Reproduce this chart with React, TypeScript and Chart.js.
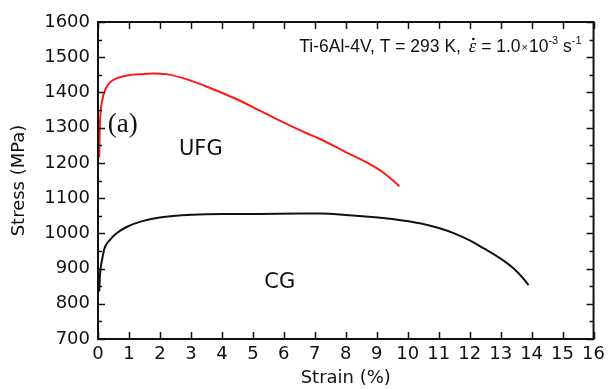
import React, { useEffect, useRef } from "react";
import { Chart, registerables } from "chart.js";

Chart.register(...registerables);

// UFG (red) curve
const ufgStrain = [0.04, 0.05, 0.07, 0.13, 0.26, 0.38, 0.6, 1.0, 1.4, 1.75, 2.2, 2.95, 3.64, 4.5, 5.19, 5.94, 6.79, 7.12, 7.97, 8.72, 9.25, 9.73];
const ufgStress = [1215, 1270, 1325, 1375, 1412, 1428, 1440, 1449, 1452, 1454, 1452, 1435, 1412, 1380, 1350, 1317, 1282, 1270, 1232, 1199, 1170, 1134];

// CG (black) curve
const cgStrain = [0.04, 0.06, 0.09, 0.13, 0.2, 0.38, 0.6, 0.92, 1.4, 1.99, 3.05, 4.0, 5.2, 6.5, 7.2, 8.0, 9.04, 9.5, 10.43, 11.0, 11.5, 12.0, 12.46, 13.0, 13.42, 13.7, 13.9];
const cgStress = [835, 876, 905, 924, 955, 981, 1000, 1018, 1034, 1045, 1053, 1055, 1055, 1056, 1056, 1052, 1045, 1041, 1028, 1015, 1000, 980, 957, 928, 900, 875, 853];

const X_MIN = 0;
const X_MAX = 16;
const Y_MIN = 700;
const Y_MAX = 1600;
const xTickValues = [0, 1, 2, 3, 4, 5, 6, 7, 8, 9, 10, 11, 12, 13, 14, 15, 16];
const yMajorTicks = [700, 800, 900, 1000, 1100, 1200, 1300, 1400, 1500, 1600];
const yMinorTicks = [750, 850, 950, 1050, 1150, 1250, 1350, 1450, 1550];

const xTitle = "Strain (%)";
const yTitle = "Stress (MPa)";

const labelA = { text: "(a)", x: 0.8, y: 1307 };
const labelUFG = { text: "UFG", x: 3.32, y: 1239 };
const labelCG = { text: "CG", x: 5.87, y: 859 };
const headerPos = { x: 6.5, y: 1532 };
const headerMain = "Ti-6Al-4V, T = 293 K, ";
const headerRate = " = 1.0";
const headerExp = "-3";
const headerUnitExp = "-1";

const SANS = "'DejaVu Sans', 'Liberation Sans', Arial, sans-serif";
const ARIAL = "'Liberation Sans', Arial, sans-serif";
const SERIF = "'Liberation Serif', 'Times New Roman', serif";

const framePlugin = {
  id: "frame",
  afterDatasetsDraw(chart: any) {
    const { ctx, chartArea, scales } = chart;
    const { left, right, top, bottom } = chartArea;
    const x = scales.x;
    const y = scales.y;
    ctx.save();
    ctx.strokeStyle = "#111";
    ctx.lineWidth = 2;
    ctx.strokeRect(left, top, right - left, bottom - top);
    ctx.lineWidth = 1.5;
    ctx.beginPath();
    xTickValues.forEach((v) => {
      const px = Math.round(x.getPixelForValue(v)) + 0.5;
      ctx.moveTo(px, bottom);
      ctx.lineTo(px, bottom - 7);
      ctx.moveTo(px, top);
      ctx.lineTo(px, top + 7);
    });
    yMajorTicks.forEach((v) => {
      const py = Math.round(y.getPixelForValue(v)) + 0.5;
      ctx.moveTo(left, py);
      ctx.lineTo(left + 7, py);
      ctx.moveTo(right, py);
      ctx.lineTo(right - 7, py);
    });
    yMinorTicks.forEach((v) => {
      const py = Math.round(y.getPixelForValue(v)) + 0.5;
      ctx.moveTo(left, py);
      ctx.lineTo(left + 4, py);
      ctx.moveTo(right, py);
      ctx.lineTo(right - 4, py);
    });
    ctx.stroke();

    ctx.fillStyle = "#111";
    ctx.textBaseline = "middle";
    ctx.textAlign = "center";
    ctx.font = `27px ${SERIF}`;
    ctx.fillText(labelA.text, x.getPixelForValue(labelA.x), y.getPixelForValue(labelA.y));
    ctx.font = `21px ${SANS}`;
    ctx.fillText(labelUFG.text, x.getPixelForValue(labelUFG.x), y.getPixelForValue(labelUFG.y));
    ctx.fillText(labelCG.text, x.getPixelForValue(labelCG.x), y.getPixelForValue(labelCG.y));

    // header text with strain rate
    ctx.textAlign = "left";
    ctx.textBaseline = "alphabetic";
    let cx = x.getPixelForValue(headerPos.x);
    const base = y.getPixelForValue(headerPos.y) + 6;
    const draw = (t: string, f: string, dy: number) => {
      ctx.font = f;
      ctx.fillText(t, cx, base + dy);
      const w = ctx.measureText(t).width;
      cx += w;
      return w;
    };
    draw(headerMain, `17.5px ${ARIAL}`, 0);
    cx += 3;
    const ex = cx;
    const ew = draw("\u03B5", `italic 19px ${SERIF}`, 0);
    ctx.beginPath();
    ctx.arc(ex + ew * 0.6, base - 13, 1.3, 0, Math.PI * 2);
    ctx.fill();
    draw(headerRate, `17.5px ${ARIAL}`, 0);
    cx += 1;
    draw("\u00D7", `11px ${ARIAL}`, -1);
    cx += 1;
    draw("10", `17.5px ${ARIAL}`, 0);
    draw(headerExp, `11px ${ARIAL}`, -8);
    draw(" s", `17.5px ${ARIAL}`, 0);
    draw(headerUnitExp, `11px ${ARIAL}`, -8);
    ctx.restore();
  },
};

export default function App() {
  const ref = useRef<HTMLCanvasElement | null>(null);
  useEffect(() => {
    if (!ref.current) return;
    const chart = new Chart(ref.current, {
      type: "line",
      data: {
        datasets: [
          {
            label: "UFG",
            data: ufgStrain.map((s, i) => ({ x: s, y: ufgStress[i] })),
            borderColor: "rgb(255,25,25)",
            borderWidth: 2,
            pointRadius: 0,
            fill: false,
            cubicInterpolationMode: "monotone",
          },
          {
            label: "CG",
            data: cgStrain.map((s, i) => ({ x: s, y: cgStress[i] })),
            borderColor: "#111",
            borderWidth: 2,
            pointRadius: 0,
            fill: false,
            cubicInterpolationMode: "monotone",
          },
        ],
      },
      options: {
        animation: false,
        responsive: true,
        maintainAspectRatio: false,
        layout: { padding: { top: 22, right: 13, left: 0, bottom: 0 } },
        plugins: { legend: { display: false }, tooltip: { enabled: false } },
        scales: {
          x: {
            type: "linear",
            min: X_MIN,
            max: X_MAX,
            grid: { display: false, drawTicks: false },
            border: { display: false },
            ticks: {
              stepSize: 1,
              autoSkip: false,
              maxRotation: 0,
              padding: 5,
              color: "#111",
              font: { family: SANS, size: 18 },
              callback: (v: any) => String(v),
            },
            title: {
              display: true,
              text: xTitle,
              color: "#111",
              padding: 0,
              font: { family: SANS, size: 18 },
            },
            afterFit: (s: any) => {
              s.height = 50;
            },
          },
          y: {
            type: "linear",
            min: Y_MIN,
            max: Y_MAX,
            grid: { display: false, drawTicks: false },
            border: { display: false },
            ticks: {
              stepSize: 100,
              padding: 8,
              color: "#111",
              font: { family: SANS, size: 18 },
              callback: (v: any) => String(v),
            },
            title: {
              display: true,
              text: yTitle,
              color: "#111",
              padding: { top: 9, bottom: 0 },
              font: { family: SANS, size: 18 },
            },
            afterFit: (s: any) => {
              s.width = 98;
            },
          },
        },
      },
      plugins: [framePlugin],
    });
    return () => chart.destroy();
  }, []);
  return (
    <div style={{ position: "absolute", left: 0, top: 0, width: 610, height: 389 }}>
      <canvas ref={ref} />
    </div>
  );
}
